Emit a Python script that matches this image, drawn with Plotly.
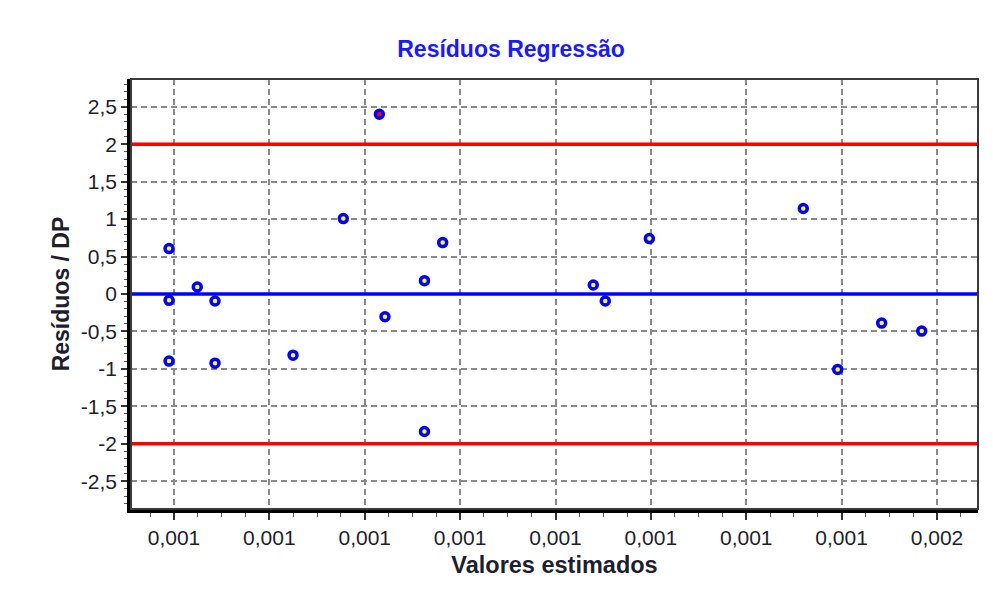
import plotly.graph_objects as go

# ---- data ----
valores_estimados = [0.0006948, 0.0006948, 0.0006948, 0.0007244, 0.000743, 0.000743,
                     0.0008248, 0.0008775, 0.0009153, 0.0009212, 0.0009626, 0.0009626,
                     0.0009817, 0.0011396, 0.0011522, 0.0011984, 0.0013598, 0.0013959,
                     0.001442, 0.001484]
residuos_dp = [0.606, -0.085, -0.896, 0.093, -0.094, -0.923,
               -0.816, 1.007, 2.40, -0.303, 0.178, -1.836,
               0.686, 0.120, -0.094, 0.740, 1.141, -1.007,
               -0.388, -0.495]
limites = [-2, 2]
linha_zero = [0]

x_tick_vals = [0.0007, 0.0008, 0.0009, 0.0010, 0.0011, 0.0012, 0.0013, 0.0014, 0.0015]
x_tick_text = ["0,001", "0,001", "0,001", "0,001", "0,001", "0,001", "0,001", "0,001", "0,002"]
y_tick_vals = [-2.5, -2, -1.5, -1, -0.5, 0, 0.5, 1, 1.5, 2, 2.5]
y_tick_text = ["-2,5", "-2", "-1,5", "-1", "-0,5", "0", "0,5", "1", "1,5", "2", "2,5"]

x_range = [0.0006549, 0.001543]
y_range = [-2.87, 2.87]

FONT = "Liberation Sans, Arial, sans-serif"
TXT = "#1e1e2e"

# page has an 8px body margin; figure is sized so that it fills the window
W, H = 985, 597

fig = go.Figure()

for lim in limites:
    fig.add_trace(go.Scatter(x=x_range, y=[lim, lim], mode="lines",
                             line=dict(color="#ff0000", width=3.5),
                             hoverinfo="skip", showlegend=False))
for z in linha_zero:
    fig.add_trace(go.Scatter(x=x_range, y=[z, z], mode="lines",
                             line=dict(color="#0000ff", width=3.5),
                             hoverinfo="skip", showlegend=False))

fill_colors = ["#ff0000" if abs(v) > max(limites) else "#ffff00" for v in residuos_dp]
fig.add_trace(go.Scatter(
    x=valores_estimados, y=residuos_dp, mode="markers",
    marker=dict(symbol="circle", size=8, color=fill_colors,
                line=dict(color="#0000ff", width=3.5)),
    showlegend=False, cliponaxis=False))

fig.add_shape(type="rect", xref="paper", yref="paper", x0=0, x1=1, y0=0, y1=1,
              line=dict(color="#3a3a3a", width=2), fillcolor="rgba(0,0,0,0)", layer="above")

fig.update_layout(
    width=W, height=H,
    margin=dict(l=123, r=15, t=71, b=96),
    paper_bgcolor="white", plot_bgcolor="white",
    font=dict(family=FONT, size=21, color=TXT),
    title=dict(text="<b>Resíduos Regressão</b>", x=503 / W, xref="container", xanchor="center",
               y=1 - 41 / H, yref="container", yanchor="middle",
               font=dict(family=FONT, size=23, color="#1a1aff")),
    xaxis=dict(range=x_range, tickmode="array", tickvals=x_tick_vals, ticktext=x_tick_text,
               showgrid=True, gridcolor="#8a8a8a", gridwidth=1.5, griddash="6px,4px",
               showline=True, linecolor="black", linewidth=3.5, mirror=False,
               ticks="outside", ticklen=7, tickwidth=1.5, tickcolor="#333",
               minor=dict(tick0=0.0007, dtick=0.000025, ticks="outside", ticklen=4,
                          tickwidth=1.2, tickcolor="#555", showgrid=False),
               zeroline=False,
               title=dict(text="<b>Valores estimados</b>", font=dict(family=FONT, size=23.5, color=TXT),
                          standoff=10),
               tickfont=dict(family=FONT, size=21, color=TXT)),
    yaxis=dict(range=y_range, tickmode="array", tickvals=y_tick_vals, ticktext=y_tick_text,
               showgrid=True, gridcolor="#8a8a8a", gridwidth=1.5, griddash="6px,4px",
               showline=True, linecolor="black", linewidth=3.5, mirror=False,
               ticks="outside", ticklen=6, tickwidth=1.5, tickcolor="#333",
               minor=dict(tick0=0, dtick=0.1, ticks="outside", ticklen=3,
                          tickwidth=1.2, tickcolor="#555", showgrid=False),
               zeroline=False,
               title=dict(text="<b>Resíduos / DP</b>", font=dict(family=FONT, size=23, color=TXT),
                          standoff=6),
               tickfont=dict(family=FONT, size=21, color=TXT)),
)

fig.write_html("out.html")
